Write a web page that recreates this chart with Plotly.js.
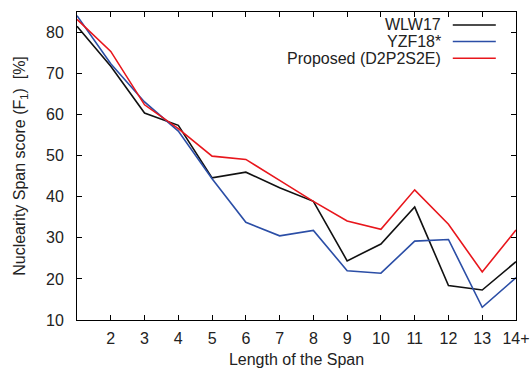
<!DOCTYPE html>
<html>
<head>
<meta charset="utf-8">
<script src="https://cdn.plot.ly/plotly-3.0.1.min.js"></script>
<style>html,body{margin:0;padding:0;background:#fff;}#chart{width:530px;height:368px;}</style>
</head>
<body>
<div id="chart"></div>
<script>
const spanLengths = [1,2,3,4,5,6,7,8,9,10,11,12,13,14];
const tickLabels = ['', '2','3','4','5','6','7','8','9','10','11','12','13','14+'];
const seriesNames = ['WLW17', 'YZF18*', 'Proposed (D2P2S2E)'];
const wlw17 = [81.5, 71.8, 60.4, 57.4, 44.6, 46.0, 42.2, 38.9, 24.4, 28.5, 37.5, 18.4, 17.3, 24.2];
const yzf18 = [84.1, 72.4, 63.1, 56.0, 44.4, 33.8, 30.5, 31.8, 22.0, 21.4, 29.2, 29.6, 13.1, 20.3];
const proposed = [83.2, 75.4, 62.4, 56.6, 49.9, 49.1, 44.0, 38.9, 34.1, 32.1, 41.7, 33.3, 21.7, 31.9];
const colors = ['#111111', '#2b4ea6', '#e8161c'];
const allSeries = [wlw17, yzf18, proposed];

const traces = allSeries.map((ys, i) => ({
  x: spanLengths, y: ys, type: 'scatter', mode: 'lines',
  name: seriesNames[i], line: {color: colors[i], width: 1.6}, showlegend: false
}));

const fam = 'Liberation Sans, Arial, sans-serif';
// manual legend: text right-aligned, line sample to the right
const legRows = [0.958, 0.904, 0.85];
const annotations = seriesNames.map((n, i) => ({
  xref: 'paper', yref: 'paper', x: 0.833, y: legRows[i], xanchor: 'right', yanchor: 'middle',
  text: n, showarrow: false, font: {family: fam, size: 16, color: '#222'}
}));
const shapes = seriesNames.map((n, i) => ({
  type: 'line', xref: 'paper', yref: 'paper', x0: 0.856, x1: 0.954, y0: legRows[i], y1: legRows[i],
  line: {color: colors[i], width: 1.6}
}));

const axisFont = {family: fam, size: 16, color: '#222'};
const layout = {
  width: 530, height: 368,
  margin: {l: 77, r: 14, t: 12, b: 48},
  paper_bgcolor: '#fff', plot_bgcolor: '#fff',
  showlegend: false,
  xaxis: {
    range: [1, 14], tickvals: spanLengths, ticktext: tickLabels, automargin: false,
    ticks: 'inside', ticklen: 5, tickcolor: '#000', mirror: 'ticks', ticklabelstandoff: 4,
    showline: true, linecolor: '#000', linewidth: 1, showgrid: false, zeroline: false,
    tickfont: axisFont,
    title: {text: 'Length of the Span', font: {family: fam, size: 16, color: '#222'}}
  },
  yaxis: {
    range: [10, 85], tickvals: [10,20,30,40,50,60,70,80], automargin: false,
    ticks: 'inside', ticklen: 5, tickcolor: '#000', mirror: 'ticks', ticklabelstandoff: 9,
    showline: true, linecolor: '#000', linewidth: 1, showgrid: false, zeroline: false,
    tickfont: axisFont,
    title: {text: 'Nuclearity Span score (F<sub>1</sub>)  [%]', standoff: 16, font: {family: fam, size: 16, color: '#222'}}
  },
  annotations: annotations,
  shapes: shapes
};
Plotly.newPlot('chart', traces, layout, {staticPlot: true, displayModeBar: false});
</script>
</body>
</html>
